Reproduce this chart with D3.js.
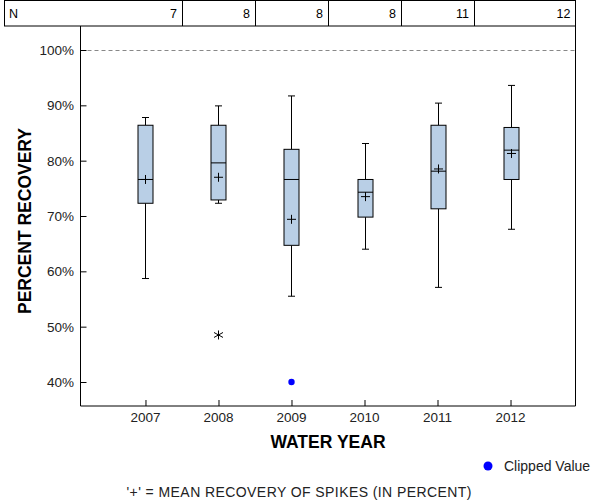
<!DOCTYPE html>
<html><head><meta charset="utf-8">
<script src="https://cdn.jsdelivr.net/npm/d3@7"></script>
<style>body{margin:0;background:#fff}svg{display:block;font-family:"Liberation Sans",Arial,sans-serif}</style>
</head><body><svg id="c" width="600" height="500"></svg>
<script>
const years = ["2007","2008","2009","2010","2011","2012"];
const counts = [7, 8, 8, 8, 11, 12];
const whiskerLow = [58.7, 72.3, 55.5, 64.0, 57.1, 67.6];
const q1 = [72.3, 72.9, 64.7, 69.8, 71.3, 76.6];
const median = [76.6, 79.6, 76.6, 74.3, 78.1, 81.9];
const q3 = [86.4, 86.4, 82.05, 76.6, 86.4, 86.0];
const whiskerHigh = [87.8, 89.9, 91.7, 83.1, 90.4, 93.6];
const means = [76.6, 77.0, 69.4, 73.5, 78.5, 81.3];
const outliers = [{year:"2008", value:48.5}];
const clipped = [{year:"2009", value:40}];
const yTicks = [40, 50, 60, 70, 80, 90, 100];
const refValue = 100;

const svg = d3.select("#c");
const L = 80.5, R = 575.5, T = 26, B = 406;
const x = d3.scalePoint().domain(years).range([L, R]).padding(0.89);
const y = d3.scaleLinear().domain([40, 100]).range([382, 50]);
const step = x.step();

// N table
const tbl = svg.append("g");
const edges = [4].concat(years.slice(0, -1).map(d => x(d) + step / 2)).concat([R]);
tbl.append("rect").attr("x", 4.5).attr("y", 0.5).attr("width", R - 4.5).attr("height", T - 0.5)
  .attr("fill", "none").attr("stroke", "#000");
edges.slice(1, -1).forEach(e => tbl.append("line").attr("x1", Math.round(e) + 0.5).attr("x2", Math.round(e) + 0.5)
  .attr("y1", 0).attr("y2", T).attr("stroke", "#000"));
tbl.append("text").attr("x", 9).attr("y", 18).attr("font-size", 12.5).text("N");
counts.forEach((c, i) => tbl.append("text").attr("x", edges[i + 1] - 5).attr("y", 18)
  .attr("text-anchor", "end").attr("font-size", 12.5).text(c));

// reference line
svg.append("line").attr("x1", L).attr("x2", R).attr("y1", y(refValue) + 0.5).attr("y2", y(refValue) + 0.5)
  .attr("stroke", "#888").attr("stroke-dasharray", "4,3");

// frame: left, bottom, right
svg.append("path").attr("d", `M${L},${T}V${B}H${R}V${T}`).attr("fill", "none").attr("stroke", "#000");

// y axis ticks
const yAxis = d3.axisRight(y).tickValues(yTicks).tickSize(6).tickFormat("");
const gy = svg.append("g").attr("transform", `translate(${L},0)`).call(yAxis);
gy.select(".domain").remove();
gy.selectAll("line").attr("stroke", "#000");
yTicks.forEach(v => svg.append("text").attr("x", 74).attr("y", y(v) + 5).attr("text-anchor", "end")
  .attr("font-size", 13.5).attr("fill", "#222").text(v + "%"));

// x axis ticks
const xAxis = d3.axisTop(x).tickSize(6).tickFormat("");
const gx = svg.append("g").attr("transform", `translate(0,${B})`).call(xAxis);
gx.select(".domain").remove();
gx.selectAll("line").attr("stroke", "#000");
years.forEach(d => svg.append("text").attr("x", x(d)).attr("y", 421.5).attr("text-anchor", "middle")
  .attr("font-size", 13.5).attr("fill", "#222").text(d));

// boxes
const bw = 15, cw = 7, ms = 4.5;
years.forEach((d, i) => {
  const cx = Math.round(x(d)) + 0.5;
  const g = svg.append("g").attr("stroke", "#000").attr("stroke-width", 1);
  g.append("line").attr("x1", cx).attr("x2", cx).attr("y1", y(whiskerHigh[i])).attr("y2", y(q3[i]));
  g.append("line").attr("x1", cx).attr("x2", cx).attr("y1", y(q1[i])).attr("y2", y(whiskerLow[i]));
  g.append("line").attr("x1", cx - cw / 2).attr("x2", cx + cw / 2).attr("y1", y(whiskerHigh[i])).attr("y2", y(whiskerHigh[i]));
  g.append("line").attr("x1", cx - cw / 2).attr("x2", cx + cw / 2).attr("y1", y(whiskerLow[i])).attr("y2", y(whiskerLow[i]));
  g.append("rect").attr("x", cx - bw / 2).attr("y", y(q3[i])).attr("width", bw).attr("height", y(q1[i]) - y(q3[i]))
    .attr("fill", "#B9CFE6");
  g.append("line").attr("x1", cx - bw / 2).attr("x2", cx + bw / 2).attr("y1", y(median[i])).attr("y2", y(median[i]));
  g.append("path").attr("d", `M${cx - ms},${y(means[i])}H${cx + ms}M${cx},${y(means[i]) - ms}V${y(means[i]) + ms}`);
});

// outliers as asterisks
outliers.forEach(o => {
  const cx = x(o.year), cy = y(o.value), r = 4.5;
  svg.append("path").attr("stroke", "#000").attr("fill", "none")
    .attr("d", `M${cx},${cy - r}V${cy + r}M${cx - r},${cy - r * 0.55}L${cx + r},${cy + r * 0.55}M${cx - r},${cy + r * 0.55}L${cx + r},${cy - r * 0.55}`);
});

// clipped values
clipped.forEach(c => svg.append("circle").attr("cx", x(c.year)).attr("cy", y(c.value)).attr("r", 3.2).attr("fill", "#0000FF"));

// titles
svg.append("text").attr("transform", `translate(31,221) rotate(-90)`).attr("text-anchor", "middle")
  .attr("font-size", 17.5).attr("font-weight", "bold").text("PERCENT RECOVERY");
svg.append("text").attr("x", 328).attr("y", 448).attr("text-anchor", "middle")
  .attr("font-size", 17.5).attr("font-weight", "bold").text("WATER YEAR");

// legend
svg.append("circle").attr("cx", 488).attr("cy", 466).attr("r", 4.5).attr("fill", "#0000FF");
svg.append("text").attr("x", 504).attr("y", 471).attr("font-size", 14).attr("fill", "#222").text("Clipped Value");

// footnote
svg.append("text").attr("x", 299).attr("y", 497).attr("text-anchor", "middle").attr("font-size", 14)
  .attr("fill", "#222").attr("textLength", 345).attr("lengthAdjust", "spacing")
  .text("'+' = MEAN RECOVERY OF SPIKES (IN PERCENT)");
</script></body></html>
